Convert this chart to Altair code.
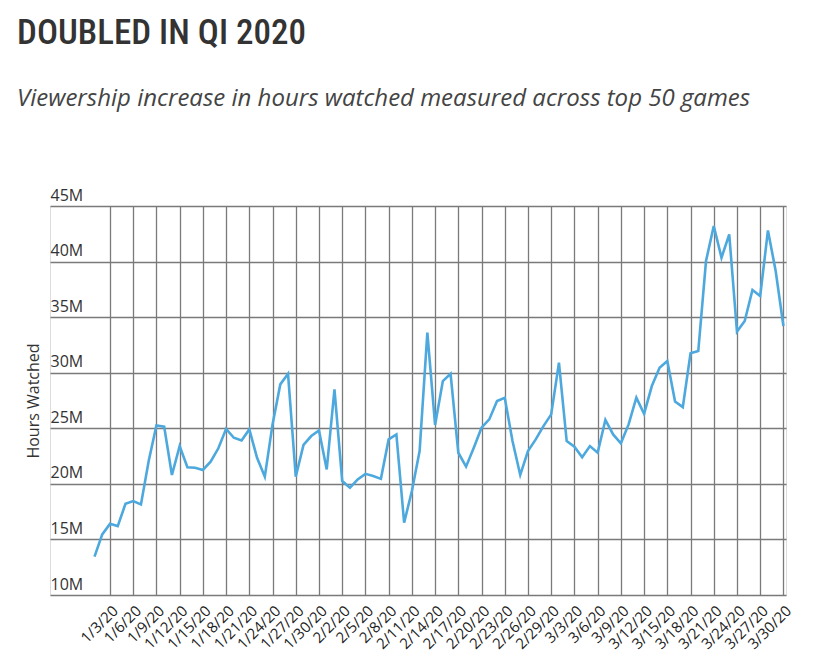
import altair as alt
import pandas as pd

# Daily dates, Q1 2020 (1/1/20 .. 3/30/20)
dates = [d.strftime("%Y-%m-%d") for d in pd.date_range("2020-01-01", "2020-03-30")]

# Hours watched, in millions
hours_m = [13.45, 15.45, 16.4, 16.2, 18.2, 18.45, 18.15, 22.05, 25.25, 25.15,
           20.8, 23.4, 21.5, 21.45, 21.25, 22.0, 23.2, 24.95, 24.15, 23.9,
           24.9, 22.35, 20.65, 25.35, 28.95, 29.9, 20.65, 23.5, 24.3, 24.8,
           21.3, 28.5, 20.25, 19.65, 20.4, 20.9, 20.7, 20.45, 24.0, 24.45,
           16.5, 19.35, 22.95, 33.6, 25.3, 29.25, 29.9, 22.8, 21.55, 23.25,
           25.05, 25.8, 27.45, 27.75, 23.85, 20.8, 22.95, 24.0, 25.2, 26.25,
           30.9, 23.85, 23.35, 22.4, 23.4, 22.8, 25.75, 24.45, 23.65, 25.35,
           27.75, 26.3, 28.8, 30.45, 31.05, 27.4, 26.9, 31.75, 31.95, 40.05,
           43.2, 40.35, 42.45, 33.7, 34.65, 37.45, 36.9, 42.8, 39.15, 34.2]

# Axis tick dates (every 3 days) and y ticks (millions)
tick_dates = [d for d in pd.date_range("2020-01-03", "2020-03-30", freq="3D")]
y_ticks = [10, 15, 20, 25, 30, 35, 40, 45]

df = pd.DataFrame({"date": dates, "hours": hours_m})

tick_values = [alt.DateTime(year=t.year, month=t.month, date=t.day, utc=True) for t in tick_dates]
x_domain = [alt.DateTime(year=2019, month=12, date=26, hours=6, utc=True),
            alt.DateTime(year=2020, month=3, date=30, hours=8, utc=True)]

grid_color = "#7a7a7a"

chart = alt.Chart(df).mark_line(color="#4DA8DE", strokeWidth=2.6).encode(
    x=alt.X("date:T",
            scale=alt.Scale(type="utc", domain=x_domain),
            axis=alt.Axis(values=tick_values,
                          labelExpr="utcFormat(datum.value, '%-m/%-d/%y')",
                          labelAngle=-45, labelFont="Open Sans", labelFontSize=15,
                          labelColor="#222", labelPadding=8, ticks=False, domain=False,
                          grid=True, gridColor=grid_color, gridWidth=1.3, title=None,
                          labelOverlap=False)),
    y=alt.Y("hours:Q",
            scale=alt.Scale(domain=[10, 45], nice=False, zero=False),
            axis=alt.Axis(values=y_ticks, labelExpr="datum.value + 'M'",
                          labelAlign="left", labelBaseline="bottom", labelPadding=0,
                          tickSize=0, ticks=False, domain=False, labelOffset=-3,
                          labelFont="Open Sans", labelFontSize=16, labelColor="#333",
                          grid=True, gridColor=grid_color, gridWidth=1.3,
                          title="Hours Watched", titleFont="Open Sans", titleFontSize=16,
                          titleFontWeight="normal", titleColor="#333", titlePadding=9)),
).properties(
    width=736,
    height=389,
    autosize=alt.AutoSizeParams(type="none"),
    padding={"left": 42, "top": 198, "right": 38, "bottom": 58},
    title=alt.TitleParams(
        text="DOUBLED IN QI 2020",
        subtitle="Viewership increase in hours watched measured across top 50 games",
        anchor="start", frame="group", dx=-33, offset=76,
        font="Roboto Condensed, Liberation Sans Narrow, Roboto, sans-serif",
        fontSize=35, fontWeight=500, color="#333",
        subtitleFont="Open Sans", subtitleFontStyle="italic", subtitleFontSize=24,
        subtitleColor="#444", subtitlePadding=36,
    ),
).configure_view(stroke=None).configure(background="white")

chart.save("out.html", embed_options={"renderer": "svg", "actions": False})
